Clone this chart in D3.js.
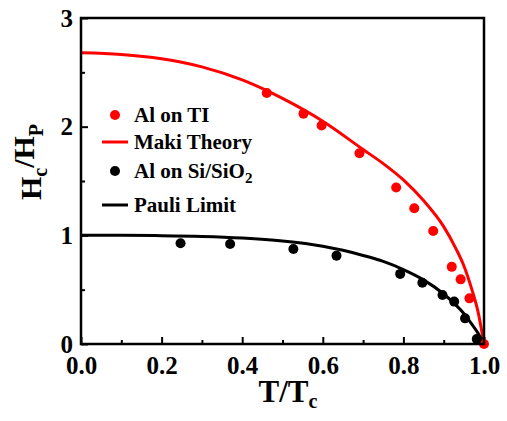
<!DOCTYPE html>
<html>
<head>
<meta charset="utf-8">
<script src="https://cdn.jsdelivr.net/npm/d3@7"></script>
<style>
  html, body { margin: 0; padding: 0; background: #fff; }
  svg text { font-family: "Liberation Serif", "Times New Roman", Tinos, "DejaVu Serif", serif !important; font-weight: bold; }
</style>
</head>
<body>
<svg id="chart" width="507" height="421"></svg>
<script>
// ---- data ----
const alOnTI_T = [0.461, 0.552, 0.597, 0.691, 0.782, 0.827, 0.874, 0.920, 0.942, 0.964, 1.0];
const alOnTI_H = [2.31, 2.12, 2.01, 1.755, 1.44, 1.25, 1.04, 0.71, 0.595, 0.42, 0.0];

const alOnSi_T = [0.247, 0.370, 0.527, 0.634, 0.792, 0.847, 0.897, 0.926, 0.953, 0.982];
const alOnSi_H = [0.927, 0.920, 0.874, 0.813, 0.645, 0.564, 0.451, 0.390, 0.236, 0.045];

const maki_T = [0, 0.1, 0.2, 0.3, 0.4, 0.5, 0.6, 0.7, 0.75, 0.8, 0.85, 0.9, 0.93, 0.95, 0.97, 0.985, 1.0];
const maki_H = [2.68, 2.665, 2.625, 2.55, 2.43, 2.26, 2.05, 1.79, 1.66, 1.51, 1.32, 1.08, 0.88, 0.72, 0.50, 0.30, 0.0];

const pauli_T = [0, 0.1, 0.2, 0.3, 0.4, 0.5, 0.6, 0.65, 0.7, 0.75, 0.8, 0.85, 0.9, 0.93, 0.95, 0.97, 0.985, 1.0];
const pauli_H = [1.0, 1.0, 0.997, 0.99, 0.975, 0.948, 0.90, 0.862, 0.815, 0.76, 0.685, 0.59, 0.46, 0.36, 0.28, 0.18, 0.10, 0.0];

const xTicks = [0.0, 0.2, 0.4, 0.6, 0.8, 1.0];
const xMinorTicks = [0.1, 0.3, 0.5, 0.7, 0.9];
const yTicks = [0, 1, 2, 3];
const yMinorTicks = [0.5, 1.5, 2.5];

const legendLabels = ["Al on TI", "Maki Theory", "Al on Si/SiO", "Pauli Limit"];

// ---- drawing ----
const FONT = '"Liberation Serif", "Times New Roman", Tinos, "DejaVu Serif", serif';
const svg = d3.select("#chart");
const L = 81, R = 484, T = 18, B = 344;
const x = d3.scaleLinear().domain([0, 1]).range([L, R]);
const y = d3.scaleLinear().domain([0, 3]).range([B, T]);

const red = "#ff0000";
const zip = (a, b) => a.map((v, i) => [v, b[i]]);

// axes (ticks inward)
const gx = svg.append("g").attr("transform", `translate(0,${B})`)
  .call(d3.axisBottom(x).tickValues(xTicks).tickSize(-7).tickPadding(12).tickFormat(d3.format(".1f")));
const gxm = svg.append("g").attr("transform", `translate(0,${B})`)
  .call(d3.axisBottom(x).tickValues(xMinorTicks).tickSize(-4).tickFormat(""));
const gy = svg.append("g").attr("transform", `translate(${L},0)`)
  .call(d3.axisLeft(y).tickValues(yTicks).tickSize(-7).tickPadding(8).tickFormat(d3.format("d")));
const gym = svg.append("g").attr("transform", `translate(${L},0)`)
  .call(d3.axisLeft(y).tickValues(yMinorTicks).tickSize(-4).tickFormat(""));

[gx, gxm, gy, gym].forEach(g => {
  g.attr("font-family", FONT);
  g.select(".domain").remove();
  g.selectAll(".tick line").attr("stroke", "#000").attr("stroke-width", 2);
  g.selectAll(".tick text").attr("fill", "#000").attr("font-family", FONT)
    .style("font-size", "25px").style("font-weight", "bold");
});

// lines
const line = d3.line().x(d => x(d[0])).y(d => y(d[1])).curve(d3.curveMonotoneX);
svg.append("path").datum(zip(maki_T, maki_H)).attr("d", line)
  .attr("fill", "none").attr("stroke", red).attr("stroke-width", 3);
svg.append("path").datum(zip(pauli_T, pauli_H)).attr("d", line)
  .attr("fill", "none").attr("stroke", "#000").attr("stroke-width", 3);

// points
svg.append("g").selectAll("circle").data(zip(alOnTI_T, alOnTI_H)).join("circle")
  .attr("cx", d => x(d[0])).attr("cy", d => y(d[1])).attr("r", 5).attr("fill", red);
svg.append("g").selectAll("circle").data(zip(alOnSi_T, alOnSi_H)).join("circle")
  .attr("cx", d => x(d[0])).attr("cy", d => y(d[1])).attr("r", 5).attr("fill", "#000");

// frame
svg.append("rect").attr("x", L).attr("y", T).attr("width", R - L).attr("height", B - T)
  .attr("fill", "none").attr("stroke", "#000").attr("stroke-width", 2.5);

// legend
const legRows = [115, 142, 171, 205];
const lg = svg.append("g");
lg.append("circle").attr("cx", 115).attr("cy", legRows[0]).attr("r", 5).attr("fill", red);
lg.append("line").attr("x1", 102).attr("x2", 128).attr("y1", legRows[1]).attr("y2", legRows[1])
  .attr("stroke", red).attr("stroke-width", 3);
lg.append("circle").attr("cx", 115).attr("cy", legRows[2]).attr("r", 5).attr("fill", "#000");
lg.append("line").attr("x1", 102).attr("x2", 128).attr("y1", legRows[3]).attr("y2", legRows[3])
  .attr("stroke", "#000").attr("stroke-width", 3);
legendLabels.forEach((lab, i) => {
  const t = lg.append("text").attr("x", 134).attr("y", legRows[i]).attr("dy", "0.35em")
    .attr("font-family", FONT).style("font-size", "21px").attr("fill", "#000").text(lab);
  if (i === 2) t.append("tspan").attr("dy", "0.3em").style("font-size", "15px").text("2");
});

// axis titles
const xt = svg.append("text").attr("x", 288).attr("y", 402).attr("text-anchor", "middle")
  .attr("font-family", FONT).style("font-size", "31px").attr("fill", "#000");
xt.append("tspan").text("T/T");
xt.append("tspan").attr("dy", "0.3em").style("font-size", "20px").text("c");

const yt = svg.append("text").attr("transform", "translate(41,162) rotate(-90)")
  .attr("text-anchor", "middle").attr("font-family", FONT).style("font-size", "30px").attr("fill", "#000");
yt.append("tspan").text("H");
yt.append("tspan").attr("dy", "0.3em").style("font-size", "20px").text("c");
yt.append("tspan").attr("dy", "-0.45em").text("/H");
yt.append("tspan").attr("dy", "0.45em").style("font-size", "20px").text("P");
</script>
</body>
</html>
